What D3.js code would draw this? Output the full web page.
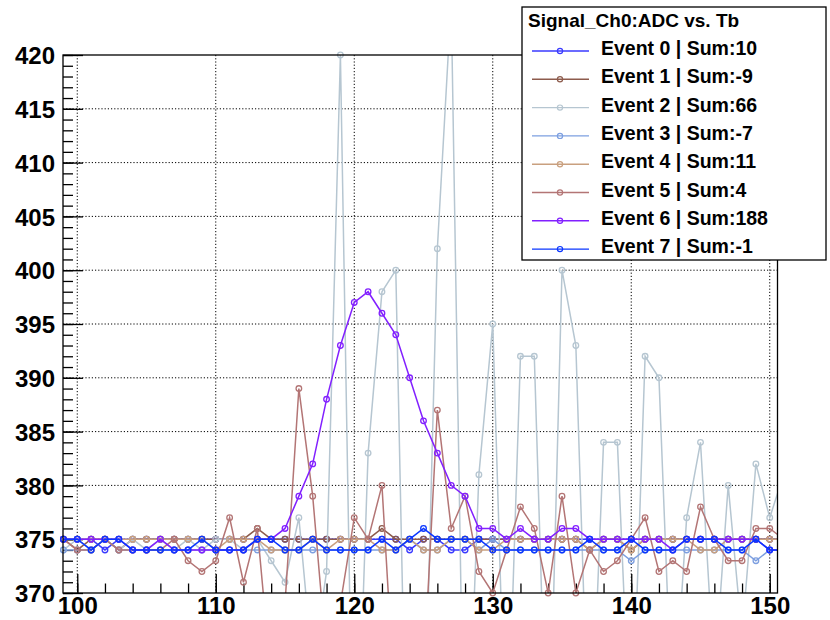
<!DOCTYPE html>
<html><head><meta charset="utf-8">
<script src="https://cdn.jsdelivr.net/npm/d3@7/dist/d3.min.js"></script>
<style>body{margin:0;background:#fff}</style>
</head><body>
<svg id="c" width="830" height="620"></svg>
<script>
// ---- data ----
const tb = [99,100,101,102,103,104,105,106,107,108,109,110,111,112,113,114,115,116,117,118,119,120,121,122,123,124,125,126,127,128,129,130,131,132,133,134,135,136,137,138,139,140,141,142,143,144,145,146,147,148,149,150,151];
const event0 = [375,375,375,374,375,375,375,375,375,375,375,375,375,375,375,375,375,375,375,375,375,375,375,375,375,374,375,375,374,374,375,375,375,375,375,375,375,375,375,375,375,375,375,375,375,375,375,375,375,375,375,375,375];
const event1 = [375,374,375,375,374,375,375,375,375,375,375,375,375,375,376,375,375,375,375,375,375,375,375,376,375,375,375,375,375,375,375,375,375,375,375,375,375,375,374,375,375,374,375,375,375,375,375,375,375,375,375,375,375];
const event2 = [374,375,374,375,374,375,374,375,374,375,374,375,375,374,375,373,371,377,363,372,420,345,383,398,400,338,352,402,425,347,381,395,352,392,392,350,400,393,352,384,384,354,392,390,357,377,384,362,380,366,382,377,381];
const event3 = [374,374,374,375,374,374,374,374,374,374,374,374,374,374,374,374,374,374,374,374,374,374,374,374,374,375,374,374,375,375,374,375,374,374,374,374,374,374,374,374,374,373,374,374,374,374,374,374,374,374,373,374,374];
const event4 = [375,375,375,375,375,375,375,375,375,375,375,374,375,375,375,374,374,374,375,374,375,375,375,374,374,375,374,374,375,375,374,374,375,375,375,375,375,375,374,375,375,374,375,375,375,375,374,374,375,375,375,375,375];
const event5 = [375,374,374,375,374,374,374,374,375,373,372,373,377,371,376,362,369,389,379,364,369,377,375,380,358,366,362,387,376,379,372,370,374,378,376,370,379,370,374,372,373,375,377,372,373,372,378,375,373,373,376,376,375];
const event6 = [375,375,375,375,375,374,374,375,374,374,374,374,374,374,375,375,376,379,382,388,393,397,398,396,394,390,386,383,380,379,376,376,375,376,375,375,376,376,375,375,375,375,375,375,374,375,375,375,375,375,375,374,374];
const event7 = [375,375,374,375,375,374,374,374,374,374,375,374,374,374,375,375,374,374,375,374,374,374,374,375,374,375,376,375,375,375,375,374,374,374,374,374,374,374,375,374,374,375,374,374,374,375,375,375,374,374,375,374,374];
const seriesNames = ["Event 0 | Sum:10","Event 1 | Sum:-9","Event 2 | Sum:66","Event 3 | Sum:-7","Event 4 | Sum:11","Event 5 | Sum:4","Event 6 | Sum:188","Event 7 | Sum:-1"];
const seriesColors = ["#3a3aff","#8d5b4c","#b6c6d1","#7d9fe0","#c9a07f","#b37575","#8220ff","#0a36ff"];
const legendTitle = "Signal_Ch0:ADC vs. Tb";
const xMajor = [100,110,120,130,140,150];
const xMinor = [100,102,104,106,108,110,112,114,116,118,120,122,124,126,128,130,132,134,136,138,140,142,144,146,148,150];
const yMajor = [370,375,380,385,390,395,400,405,410,415,420];
const yMinor = [370,371,372,373,374,375,376,377,378,379,380,381,382,383,384,385,386,387,388,389,390,391,392,393,394,395,396,397,398,399,400,401,402,403,404,405,406,407,408,409,410,411,412,413,414,415,416,417,418,419,420];

const allSeries = [event0,event1,event2,event3,event4,event5,event6,event7];

// ---- layout ----
const F = {l:63, r:777.5, t:55, b:593};
const FONT = "'Liberation Sans', Arial, Helvetica, sans-serif";
const svg = d3.select("#c");
const x = d3.scaleLinear().domain([98.97,150.56]).range([F.l, F.r]);
const y = d3.scaleLinear().domain([370,420]).range([F.b, F.t]);

svg.append("rect").attr("width",830).attr("height",620).attr("fill","#fff");

// grid
const grid = svg.append("g").attr("stroke","#000").attr("stroke-width",1).attr("stroke-dasharray","1.2,2");
grid.selectAll("line.v").data(xMajor).join("line").attr("class","v")
  .attr("x1",d=>x(d)).attr("x2",d=>x(d)).attr("y1",F.t).attr("y2",F.b);
grid.selectAll("line.h").data(yMajor.filter(d=>d>370&&d<420)).join("line").attr("class","h")
  .attr("x1",F.l).attr("x2",F.r).attr("y1",d=>y(d)).attr("y2",d=>y(d));

// axes ticks
function styleAxis(g){
  g.select(".domain").remove();
  g.selectAll("line").attr("stroke","#000").attr("stroke-width",1.3);
  g.selectAll("text").attr("font-family",FONT).attr("font-weight","bold").attr("font-size",24).attr("fill","#000");
}
svg.append("g").attr("transform",`translate(${F.l},0)`)
  .call(d3.axisLeft(y).tickValues(yMinor).tickSizeInner(-10).tickSizeOuter(0).tickFormat(""))
  .call(styleAxis);
svg.append("g").attr("transform",`translate(${F.l},0)`)
  .call(d3.axisLeft(y).tickValues(yMajor).tickSizeInner(-20).tickSizeOuter(0).tickPadding(8).tickFormat(d3.format("d")))
  .call(styleAxis)
  .call(g=>g.selectAll("text").attr("dy","0.36em"));
svg.append("g").attr("transform",`translate(0,${F.b})`)
  .call(d3.axisBottom(x).tickValues(xMinor).tickSizeInner(-9.5).tickSizeOuter(0).tickFormat(""))
  .call(styleAxis);
svg.append("g").attr("transform",`translate(0,${F.b})`)
  .call(d3.axisBottom(x).tickValues(xMajor).tickSizeInner(-19).tickSizeOuter(0).tickPadding(4).tickFormat(d3.format("d")))
  .call(styleAxis);

// clip
svg.append("clipPath").attr("id","fr").append("rect")
  .attr("x",F.l).attr("y",F.t).attr("width",F.r-F.l).attr("height",F.b-F.t);

const line = d3.line().x(d=>x(d[0])).y(d=>y(d[1]));
const plot = svg.append("g");
allSeries.forEach((vals,i)=>{
  const pts = tb.map((t,k)=>[t,vals[k]]);
  const g = plot.append("g");
  g.append("path").attr("d",line(pts)).attr("fill","none")
    .attr("stroke",seriesColors[i]).attr("stroke-width",1.5).attr("clip-path","url(#fr)");
  g.selectAll("circle").data(pts.filter(p=>p[1]>=370&&p[1]<=420&&p[0]>=x.domain()[0]&&p[0]<=x.domain()[1]))
    .join("circle").attr("cx",d=>x(d[0])).attr("cy",d=>y(d[1])).attr("r",2.8)
    .attr("fill","none").attr("stroke",seriesColors[i]).attr("stroke-width",1.3);
});

// frame
svg.append("rect").attr("x",F.l).attr("y",F.t).attr("width",F.r-F.l).attr("height",F.b-F.t)
  .attr("fill","none").attr("stroke","#000").attr("stroke-width",1.3);

// legend
const L = {x:522, y:7, w:304, h:253};
const lg = svg.append("g");
lg.append("rect").attr("x",L.x).attr("y",L.y).attr("width",L.w).attr("height",L.h)
  .attr("fill","#fff").attr("stroke","#000").attr("stroke-width",1.3);
lg.append("text").attr("x",528).attr("y",27).text(legendTitle)
  .attr("font-family",FONT).attr("font-weight","bold").attr("font-size",19).attr("fill","#000");
seriesNames.forEach((n,i)=>{
  const by = 55 + i*28.3;
  lg.append("line").attr("x1",532).attr("x2",589).attr("y1",by-4).attr("y2",by-4)
    .attr("stroke",seriesColors[i]).attr("stroke-width",1.4);
  lg.append("circle").attr("cx",560).attr("cy",by-4).attr("r",2.6).attr("fill","none")
    .attr("stroke",seriesColors[i]).attr("stroke-width",1.2);
  lg.append("text").attr("x",601).attr("y",by).text(n)
    .attr("font-family",FONT).attr("font-weight","bold").attr("font-size",19.5).attr("fill","#000");
});
</script>
</body></html>
